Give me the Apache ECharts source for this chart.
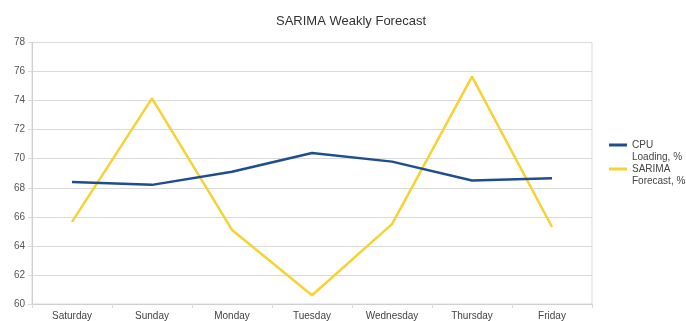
<!DOCTYPE html>
<html>
<head>
<meta charset="utf-8">
<script src="https://cdn.jsdelivr.net/npm/echarts@6/dist/echarts.min.js"></script>
<style>
  html, body { margin: 0; padding: 0; background: #fff; }
  #chart { width: 686px; height: 321px; }
</style>
</head>
<body>
<div id="chart"></div>
<script>
// Days of the forecast week
const days = ['Saturday', 'Sunday', 'Monday', 'Tuesday', 'Wednesday', 'Thursday', 'Friday'];
// Measured CPU load, %
const cpuLoading = [68.4, 68.2, 69.1, 70.4, 69.8, 68.5, 68.65];
// SARIMA model forecast, %
const sarimaForecast = [65.65, 74.15, 65.1, 60.6, 65.5, 75.65, 65.3];
// Value axis range and step
const yMin = 60, yMax = 78, yStep = 2;

const chart = echarts.init(document.getElementById('chart'));
const font = '"Liberation Sans", Arial, sans-serif';

// Legend text wraps onto two lines; a blank leading line keeps the
// swatch level with the first line of the label.
const legendText = {
  'CPU Loading, %': '\u00a0\nCPU\nLoading, %',
  'SARIMA Forecast, %': '\u00a0\nSARIMA\nForecast, %'
};

chart.setOption({
  animation: false,
  backgroundColor: '#ffffff',
  title: {
    text: 'SARIMA Weakly Forecast',
    left: 346,
    textAlign: 'center',
    top: 10,
    textStyle: { fontFamily: font, fontSize: 13, fontWeight: 'normal', color: '#333333' }
  },
  legend: {
    orient: 'vertical',
    left: 609,
    top: 127,
    padding: 0,
    itemWidth: 18,
    itemHeight: 3,
    itemGap: -12,
    icon: 'rect',
    formatter: name => legendText[name],
    textStyle: { fontFamily: font, fontSize: 10, color: '#444444', lineHeight: 12 },
    data: ['CPU Loading, %', 'SARIMA Forecast, %']
  },
  grid: { left: 32, right: 94, top: 42.5, bottom: 15, containLabel: false,
          show: true, borderColor: '#d9d9d9', borderWidth: 1 },
  xAxis: {
    type: 'category',
    data: days,
    boundaryGap: true,
    axisLine: { show: true, lineStyle: { color: '#cfcfcf', width: 1 } },
    axisTick: { show: true, length: 4, lineStyle: { color: '#d9d9d9' } },
    axisLabel: { fontFamily: font, fontSize: 10, color: '#444444', margin: 7 },
    splitLine: { show: false }
  },
  yAxis: {
    type: 'value',
    min: yMin, max: yMax, interval: yStep,
    axisLine: { show: true, lineStyle: { color: '#cfcfcf', width: 1 } },
    axisTick: { show: true, length: 4, lineStyle: { color: '#d9d9d9' } },
    axisLabel: { fontFamily: font, fontSize: 10, color: '#555555', margin: 7 },
    splitLine: { show: true, lineStyle: { color: '#d9d9d9', width: 1 } }
  },
  series: [
    {
      name: 'CPU Loading, %',
      type: 'line',
      data: cpuLoading,
      symbol: 'none',
      color: '#1f4e8f',
      lineStyle: { width: 2.5, color: '#1f4e8f' },
      z: 3
    },
    {
      name: 'SARIMA Forecast, %',
      type: 'line',
      data: sarimaForecast,
      symbol: 'none',
      color: '#f7d234',
      lineStyle: { width: 2.5, color: '#f7d234' },
      z: 2
    }
  ]
});
</script>
</body>
</html>
